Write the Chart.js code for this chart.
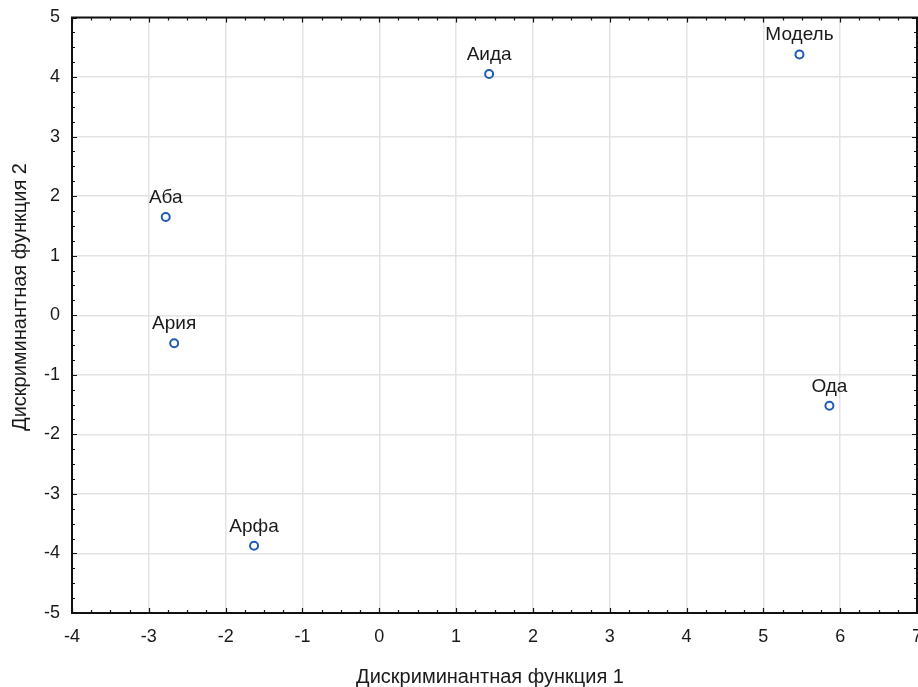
<!DOCTYPE html>
<html lang="ru">
<head>
<meta charset="UTF-8">
<title>Дискриминантные функции</title>
<script src="https://cdn.jsdelivr.net/npm/chart.js"></script>
<style>
  body { margin: 0; background: #fff; }
  canvas { display: block; }
</style>
</head>
<body>
<canvas id="chart" width="918" height="687"></canvas>
<script>
// centroids
const names = ["Аба", "Ария", "Аида", "Модель", "Ода", "Арфа"];
const func1 = [-2.78, -2.67, 1.43, 5.47, 5.86, -1.63];
const func2 = [1.65, -0.47, 4.05, 4.38, -1.52, -3.87];
const xTitle = "Дискриминантная функция 1";
const yTitle = "Дискриминантная функция 2";

const FONT = "'Liberation Sans', Arial, sans-serif";
Chart.defaults.font.family = FONT;
Chart.defaults.font.size = 18;
Chart.defaults.color = "#1a1a1a";

const points = func1.map((x, i) => ({ x: x, y: func2[i] }));

// frame, inward minor ticks, x tick labels, point labels, axis titles
const extras = {
  id: "extras",
  afterDraw(chart) {
    const ctx = chart.ctx;
    const a = chart.chartArea;
    const xs = chart.scales.x, ys = chart.scales.y;
    ctx.save();
    ctx.strokeStyle = "#111";
    ctx.lineWidth = 1.2;
    for (let v = xs.min; v <= xs.max + 1e-9; v += 0.25) {
      const px = Math.round(xs.getPixelForValue(v)) + 0.5;
      const len = Math.abs(v - Math.round(v)) < 1e-9 ? 5 : 3;
      ctx.beginPath();
      ctx.moveTo(px, a.bottom); ctx.lineTo(px, a.bottom - len);
      ctx.moveTo(px, a.top); ctx.lineTo(px, a.top + len);
      ctx.stroke();
    }
    for (let v = ys.min; v <= ys.max + 1e-9; v += 0.25) {
      const py = Math.round(ys.getPixelForValue(v)) + 0.5;
      const len = Math.abs(v - Math.round(v)) < 1e-9 ? 5 : 3;
      ctx.beginPath();
      ctx.moveTo(a.left, py); ctx.lineTo(a.left + len, py);
      ctx.moveTo(a.right, py); ctx.lineTo(a.right - len, py);
      ctx.stroke();
    }
    ctx.lineWidth = 2;
    ctx.strokeRect(a.left, a.top, a.right - a.left, a.bottom - a.top);

    ctx.fillStyle = "#1a1a1a";
    ctx.textAlign = "center";

    // x tick labels (drawn here so the last one may run off the canvas)
    ctx.font = "18px " + FONT;
    ctx.textBaseline = "middle";
    xs.ticks.forEach(t => {
      ctx.fillText(String(t.value), xs.getPixelForValue(t.value), a.bottom + 24);
    });

    ctx.font = "19px " + FONT;
    ctx.textBaseline = "alphabetic";
    const meta = chart.getDatasetMeta(0);
    meta.data.forEach((el, i) => {
      ctx.fillText(names[i], el.x, el.y - 14);
    });

    ctx.font = "20px " + FONT;
    ctx.textBaseline = "middle";
    ctx.fillText(xTitle, 490, 677);
    ctx.translate(20, 297);
    ctx.rotate(-Math.PI / 2);
    ctx.fillText(yTitle, 0, 0);
    ctx.restore();
  }
};

new Chart(document.getElementById("chart"), {
  type: "scatter",
  data: {
    datasets: [{
      data: points,
      pointRadius: 4,
      pointHoverRadius: 4,
      pointBorderWidth: 2,
      borderColor: "#1f5bb5",
      backgroundColor: "#ffffff"
    }]
  },
  options: {
    responsive: false,
    animation: false,
    layout: { autoPadding: false, padding: { top: 17.5, right: 1, left: 0, bottom: 0 } },
    plugins: { legend: { display: false }, tooltip: { enabled: false } },
    scales: {
      x: {
        min: -4, max: 7,
        ticks: { stepSize: 1, display: false },
        grid: { color: "#e3e3e3", lineWidth: 1.5, drawTicks: false },
        border: { display: false },
        afterFit(s) { s.height = 74; }
      },
      y: {
        min: -5, max: 5,
        ticks: { stepSize: 1, padding: 12, callback: v => String(v) },
        grid: { color: "#e3e3e3", lineWidth: 1.5, drawTicks: false },
        border: { display: false },
        afterFit(s) { s.width = 72; s.paddingTop = 0; s.paddingBottom = 0; }
      }
    }
  },
  plugins: [extras]
});
</script>
</body>
</html>
